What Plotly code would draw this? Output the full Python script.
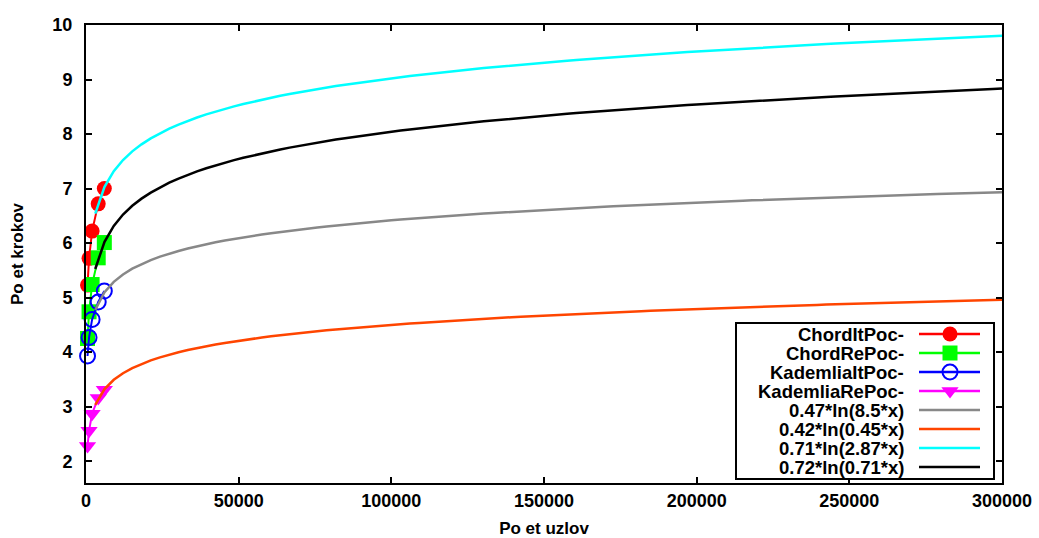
import numpy as np
import plotly.graph_objects as go

# ---------------- data ----------------
nodes = [500, 1000, 2000, 4000, 6000]
chord_it = [5.23, 5.72, 6.22, 6.72, 7.00]
chord_re = [4.25, 4.74, 5.24, 5.73, 6.01]
kad_it = [3.93, 4.27, 4.60, 4.92, 5.12]
kad_re = [2.28, 2.56, 2.87, 3.16, 3.31]

series_names = ["ChordItPoc-", "ChordRePoc-", "KademliaItPoc-", "KademliaRePoc-"]
series_values = [chord_it, chord_re, kad_it, kad_re]
series_colors = ["#ff0000", "#00ff00", "#0000ff", "#ff00ff"]
series_symbols = ["circle", "square", "circle-open", "triangle-down"]

fit_labels = ["0.47*ln(8.5*x)", "0.42*ln(0.45*x)", "0.71*ln(2.87*x)", "0.72*ln(0.71*x)"]
fit_a = [0.47, 0.42, 0.71, 0.72]
fit_b = [8.5, 0.45, 3.3, 0.71]   # cyan curve as drawn in the picture
fit_colors = ["#888888", "#ff4500", "#00ffff", "#000000"]

x_max = 300000
n_samples = 100
x_ticks = [0, 50000, 100000, 150000, 200000, 250000, 300000]
y_ticks = [2, 3, 4, 5, 6, 7, 8, 9, 10]

x_title = "Po et uzlov"
y_title = "Po et krokov"

FONT = "Liberation Sans, Arial, sans-serif"

fig = go.Figure()

for name, vals, col, sym in zip(series_names, series_values, series_colors, series_symbols):
    mk = dict(symbol=sym, size=15, color=col)
    if sym.endswith("open"):
        mk["line"] = dict(color=col, width=2)
    fig.add_trace(go.Scatter(x=nodes, y=vals, mode="lines+markers", name=name,
                             line=dict(color=col, width=2), marker=mk,
                             cliponaxis=False, showlegend=False))

xs = np.linspace(0, x_max, n_samples)[1:]
for lab, a, b, col in zip(fit_labels, fit_a, fit_b, fit_colors):
    fig.add_trace(go.Scatter(x=xs, y=a * np.log(b * xs), mode="lines", name=lab,
                             line=dict(color=col, width=2.5), showlegend=False))

# -------------- custom gnuplot-style legend --------------
leg_rows = [334, 353, 372, 391, 410, 429, 448, 467]
all_labels = series_names + fit_labels
all_colors = series_colors + fit_colors
annotations = []
for i, (lab, col) in enumerate(zip(all_labels, all_colors)):
    ry = leg_rows[i]
    fig.add_trace(go.Scatter(x=[919, 980], y=[ry, ry], mode="lines",
                             line=dict(color=col, width=2.5),
                             xaxis="x2", yaxis="y2", showlegend=False, hoverinfo="skip"))
    if i < 4:
        sym = series_symbols[i]
        mk = dict(symbol=sym, size=15, color=col)
        if sym.endswith("open"):
            mk["line"] = dict(color=col, width=2)
        fig.add_trace(go.Scatter(x=[950], y=[ry], mode="markers", marker=mk,
                                 xaxis="x2", yaxis="y2", showlegend=False, hoverinfo="skip"))
    annotations.append(dict(x=906, y=ry, xref="x2", yref="y2", text=lab, showarrow=False,
                            xanchor="right", yanchor="middle",
                            font=dict(family=FONT, size=18.5, color="black", weight="bold")))

W, H = 1039, 538
L, R, T, B = 86, 37, 25, 55
pw, ph = W - L - R, H - T - B
bx0, bx1, by0, by1 = 737, 993, 324, 478

fig.update_layout(
    width=W, height=H,
    margin=dict(l=L, r=R, t=T, b=B),
    paper_bgcolor="white", plot_bgcolor="white",
    font=dict(family=FONT, size=18, color="black", weight="bold"),
    annotations=annotations,
    xaxis=dict(range=[0, x_max], tickvals=x_ticks, tickformat="d", automargin=False,
               ticks="inside", ticklen=6, tickwidth=2, tickcolor="black",
               showline=True, linecolor="black", linewidth=2, mirror="allticks",
               showgrid=False, zeroline=False,
               title=dict(text=x_title, standoff=14,
                          font=dict(family=FONT, size=17, weight="bold"))),
    yaxis=dict(range=[1.6, 10], tickvals=y_ticks, automargin=False,
               ticks="inside", ticklen=6, tickwidth=2, tickcolor="black",
               showline=True, linecolor="black", linewidth=2, mirror="allticks",
               showgrid=False, zeroline=False, ticklabelstandoff=8,
               title=dict(text=y_title, standoff=24,
                          font=dict(family=FONT, size=17, weight="bold"))),
    xaxis2=dict(domain=[(bx0 - L) / pw, (bx1 - L) / pw], range=[bx0, bx1], anchor="y2",
                showline=True, linecolor="black", linewidth=2, mirror=True,
                showticklabels=False, ticks="", showgrid=False, zeroline=False, fixedrange=True),
    yaxis2=dict(domain=[(H - B - by1) / ph, (H - B - by0) / ph], range=[by1, by0], anchor="x2",
                showline=True, linecolor="black", linewidth=2, mirror=True,
                showticklabels=False, ticks="", showgrid=False, zeroline=False, fixedrange=True),
)

fig.write_html("out.html",
               config={"displayModeBar": False},
               post_script="document.body.style.margin='0';document.body.style.overflow='hidden';")
